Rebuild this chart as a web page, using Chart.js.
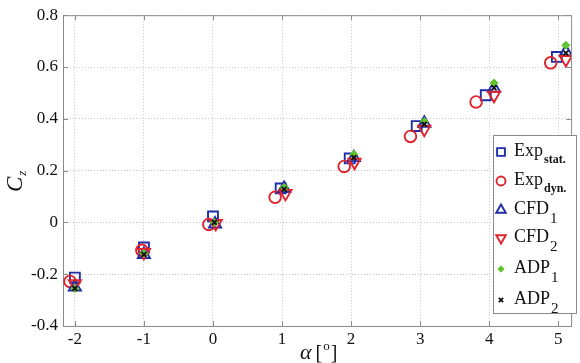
<!DOCTYPE html>
<html><head><meta charset="utf-8">
<script src="https://cdn.jsdelivr.net/npm/chart.js@4/dist/chart.umd.min.js"></script>
<style>html,body{margin:0;padding:0;background:#fff}canvas{display:block}</style>
</head><body>
<canvas id="c" width="580" height="363"></canvas>
<script>
// ---- data ----
const xTicks = [-2, -1, 0, 1, 2, 3, 4, 5];
const yTicks = [-0.4, -0.2, 0, 0.2, 0.4, 0.6, 0.8];

const expStatX = [-2, -1, 0, 0.98, 1.98, 2.95, 3.95, 4.98];
const expStatY = [-0.213, -0.097, 0.023, 0.131, 0.247, 0.372, 0.491, 0.639];

const expDynX = [-2.07, -1.03, -0.06, 0.9, 1.9, 2.86, 3.81, 4.89];
const expDynY = [-0.228, -0.108, -0.008, 0.097, 0.216, 0.332, 0.465, 0.616];

const cfd1X = [-2, -1, 0.03, 1.03, 2.04, 3.06, 4.07, 5.11];
const cfd1Y = [-0.25, -0.124, -0.006, 0.131, 0.25, 0.383, 0.518, 0.658];

const cfd2X = [-2, -1, 0.04, 1.05, 2.05, 3.06, 4.07, 5.11];
const cfd2Y = [-0.237, -0.116, -0.004, 0.112, 0.232, 0.36, 0.491, 0.629];

const adp1X = [-2, -1, 0.02, 1.03, 2.04, 3.06, 4.07, 5.11];
const adp1Y = [-0.255, -0.12, 0.0, 0.135, 0.263, 0.39, 0.538, 0.684];

const adp2X = [-2, -1, 0.02, 1.03, 2.04, 3.06, 4.07, 5.11];
const adp2Y = [-0.255, -0.124, 0.0, 0.128, 0.25, 0.379, 0.52, 0.654];

const seriesNames = ['Exp', 'Exp', 'CFD', 'CFD', 'ADP', 'ADP'];
const seriesSubs = ['stat.', 'dyn.', '1', '2', '1', '2'];
const xTitle = 'α';
const yTitle = 'C';
const yTitleSub = 'z';

// ---- styling ----
const SERIF = '"Liberation Serif", "Times New Roman", serif';
const BLUE = '#1f2da6', RED = '#e0242c', GREEN = '#62c42e', BLACK = '#111';
const pts = (xs, ys) => xs.map((x, i) => ({ x: x, y: ys[i] }));

const datasets = [
  { data: pts(expStatX, expStatY), pointStyle: 'rect', pointRadius: 7, borderColor: BLUE, backgroundColor: 'rgba(0,0,0,0)', pointBorderWidth: 1.9, order: 5 },
  { data: pts(expDynX, expDynY), pointStyle: 'circle', pointRadius: 5.8, borderColor: RED, backgroundColor: 'rgba(0,0,0,0)', pointBorderWidth: 1.9, order: 4 },
  { data: pts(cfd1X, cfd1Y), pointStyle: 'triangle', pointRadius: 7, borderColor: BLUE, backgroundColor: 'rgba(0,0,0,0)', pointBorderWidth: 1.9, order: 3 },
  { data: pts(cfd2X, cfd2Y), pointStyle: 'triangle', rotation: 180, pointRotation: 180, pointRadius: 7, borderColor: RED, backgroundColor: 'rgba(0,0,0,0)', pointBorderWidth: 1.9, order: 2 },
  { data: pts(adp1X, adp1Y), pointStyle: 'rectRot', pointRadius: 4, borderColor: GREEN, backgroundColor: GREEN, pointBorderWidth: 1, order: 1 },
  { data: pts(adp2X, adp2Y), pointStyle: 'crossRot', pointRadius: 3.4, borderColor: BLACK, backgroundColor: BLACK, pointBorderWidth: 1.9, order: 0 }
];
datasets.forEach((d, i) => { d.label = seriesNames[i] + seriesSubs[i]; d.showLine = false; d.pointHoverRadius = d.pointRadius; });

const AXIS = '#8a8a8a';

const decor = {
  id: 'decor',
  afterDraw(chart) {
    const ctx = chart.ctx, a = chart.chartArea;
    const xs = chart.scales.x, ys = chart.scales.y;
    ctx.save();
    // frame top/right
    ctx.strokeStyle = AXIS; ctx.lineWidth = 1;
    ctx.beginPath();
    ctx.moveTo(a.left, a.top + 0.5); ctx.lineTo(a.right + 0.5, a.top + 0.5);
    ctx.lineTo(a.right + 0.5, a.bottom);
    ctx.stroke();
    // inward ticks
    ctx.beginPath();
    xTicks.forEach(v => {
      const p = Math.round(xs.getPixelForValue(v)) + 0.5;
      ctx.moveTo(p, a.bottom); ctx.lineTo(p, a.bottom - 5);
      ctx.moveTo(p, a.top); ctx.lineTo(p, a.top + 5);
    });
    yTicks.forEach(v => {
      const p = Math.round(ys.getPixelForValue(v)) + 0.5;
      ctx.moveTo(a.left, p); ctx.lineTo(a.left + 5, p);
      ctx.moveTo(a.right, p); ctx.lineTo(a.right - 5, p);
    });
    ctx.stroke();

    // legend
    const bx = 493, by = 135, bw = 83, bh = 178;
    ctx.fillStyle = '#fff';
    ctx.fillRect(bx, by, bw, bh);
    ctx.strokeStyle = AXIS; ctx.lineWidth = 1;
    ctx.strokeRect(bx + 0.5, by + 0.5, bw, bh);
    const rows = [152, 181, 210, 238, 269, 300];
    chart.data.datasets.forEach((d, i) => {
      const y = rows[i];
      ctx.save();
      ctx.strokeStyle = d.borderColor; ctx.fillStyle = d.backgroundColor;
      ctx.lineWidth = d.pointBorderWidth;
      const r = { rect: 5.5, circle: 4.5, triangle: 5.5, rectRot: 3.2, crossRot: 3 }[d.pointStyle];
      Chart.helpers.drawPoint(ctx, { pointStyle: d.pointStyle, radius: r, rotation: d.pointRotation || 0, borderWidth: d.pointBorderWidth }, 501, y);
      ctx.restore();
      ctx.fillStyle = '#111';
      ctx.textBaseline = 'alphabetic'; ctx.textAlign = 'left';
      ctx.font = '18px ' + SERIF;
      ctx.fillText(seriesNames[i], 514, y + 4);
      const w = ctx.measureText(seriesNames[i]).width;
      const isWord = seriesSubs[i].length > 1;
      ctx.font = (isWord ? 'bold 12px ' : '15px ') + SERIF;
      ctx.fillText(seriesSubs[i], 514 + w + 1, y + (isWord ? 11 : 13));
    });

    // x title
    ctx.fillStyle = '#111';
    ctx.textBaseline = 'alphabetic'; ctx.textAlign = 'left';
    let x = 300; const by2 = 359;
    ctx.font = 'italic 22px ' + SERIF;
    ctx.fillText(xTitle, x, by2); x += ctx.measureText(xTitle).width + 4;
    ctx.font = '20px ' + SERIF;
    ctx.fillText('[', x, by2); x += ctx.measureText('[').width + 1;
    ctx.font = '13px ' + SERIF;
    ctx.fillText('o', x, by2 - 9); x += ctx.measureText('o').width + 1;
    ctx.font = '20px ' + SERIF;
    ctx.fillText(']', x, by2);

    // y title
    ctx.save();
    ctx.translate(22, 192);
    ctx.rotate(-Math.PI / 2);
    ctx.font = 'italic 23px ' + SERIF;
    ctx.fillText(yTitle, 0, 0);
    const cw = ctx.measureText(yTitle).width;
    ctx.font = 'italic 13px ' + SERIF;
    ctx.fillText(yTitleSub, cw + 1, 4);
    ctx.restore();
    ctx.restore();
  }
};

new Chart(document.getElementById('c'), {
  type: 'scatter',
  data: { datasets: datasets },
  options: {
    responsive: false,
    animation: false,
    events: [],
    layout: { padding: { top: 15, right: 4, left: 0, bottom: 0 } },
    plugins: { legend: { display: false }, tooltip: { enabled: false }, title: { display: false } },
    scales: {
      x: {
        type: 'linear', min: -2.172, max: 5.186,
        afterBuildTicks: s => { s.ticks = xTicks.map(v => ({ value: v })); },
        afterFit: s => { s.height = 37; },
        grid: { color: '#c8c8c8', lineWidth: 1, drawTicks: false },
        border: { display: true, color: AXIS, width: 1, dash: [1, 2] },
        ticks: { padding: 3, color: '#111', font: { family: SERIF, size: 17 }, maxRotation: 0, callback: v => String(v) }
      },
      y: {
        type: 'linear', min: -0.4, max: 0.8,
        afterBuildTicks: s => { s.ticks = yTicks.map(v => ({ value: v })); },
        afterFit: s => { s.width = 63; },
        grid: { color: '#c8c8c8', lineWidth: 1, drawTicks: false },
        border: { display: true, color: AXIS, width: 1, dash: [1, 2] },
        ticks: { padding: 5, color: '#111', font: { family: SERIF, size: 17 }, callback: v => (Math.abs(v) < 1e-9 ? '0' : v.toFixed(1)) }
      }
    }
  },
  plugins: [decor]
});
</script>
</body></html>
